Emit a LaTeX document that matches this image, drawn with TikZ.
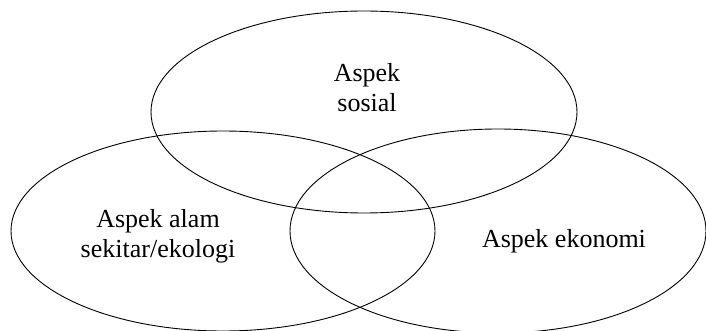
\documentclass[tikz,border=0pt]{standalone}
\usepackage{fontspec}
\setmainfont{Liberation Serif}
\begin{document}
\begin{tikzpicture}[x=1pt,y=-1pt,
  ring/.style={draw=black,line width=0.9pt},
  label/.style={font=\fontsize{26}{30}\selectfont,align=center,inner sep=0pt,anchor=base}]
\useasboundingbox (0,0) rectangle (706,331);
% the three overlapping aspects
\draw[ring] (364,112) ellipse [x radius=213, y radius=101];
\draw[ring] (223,231) ellipse [x radius=212, y radius=100];
\draw[ring] (498,231) ellipse [x radius=208, y radius=102];
% labels (base anchor sits on the last line's baseline)
\node[label] (sosial) at (367,112) {Aspek\\sosial};
\node[label] (alam) at (158,257) {Aspek alam\\sekitar/ekologi};
\node[label] (ekonomi) at (564,247) {Aspek ekonomi};
\end{tikzpicture}
\end{document}
